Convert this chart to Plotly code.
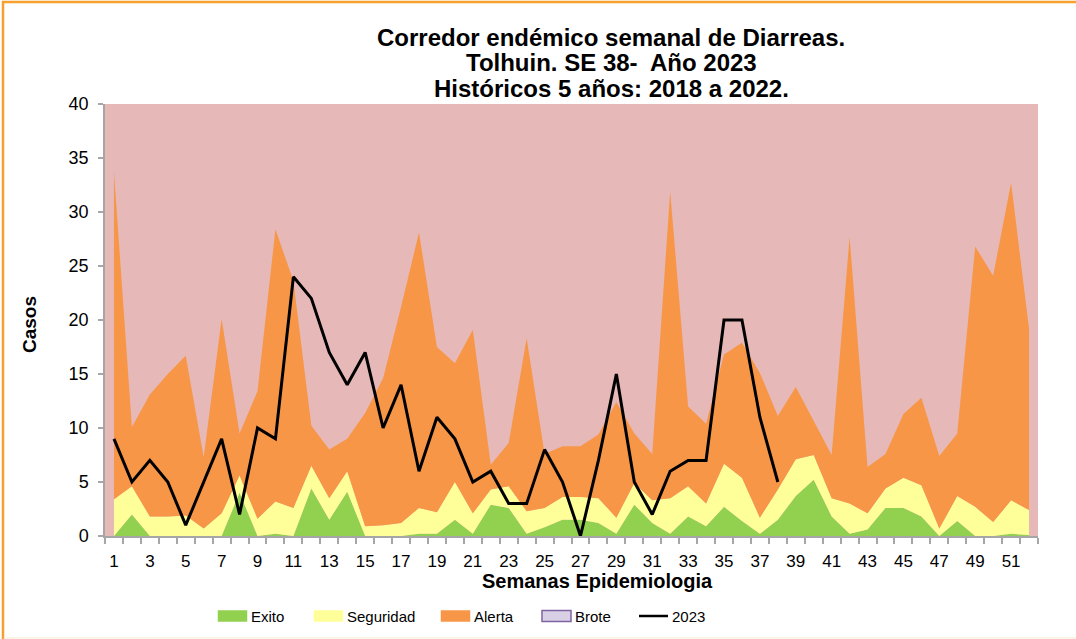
import plotly.graph_objects as go

weeks = list(range(1, 53))

exito = [0, 2.0, 0, 0, 0, 0, 0, 4.0, 0, 0.2, 0, 4.4, 1.5, 4.1, 0, 0, 0, 0.2, 0.2, 1.5,
         0.2, 2.9, 2.6, 0.2, 0.8, 1.5, 1.5, 1.2, 0.2, 2.9, 1.2, 0.2, 1.8, 0.9, 2.7, 1.4,
         0.2, 1.5, 3.7, 5.2, 1.8, 0.2, 0.6, 2.6, 2.6, 1.8, 0, 1.4, 0, 0, 0.2, 0.1]

seguridad = [3.4, 4.6, 1.8, 1.8, 1.9, 0.7, 2.1, 5.6, 1.6, 3.2, 2.6, 6.5, 3.5, 6.0, 0.9, 1.0,
             1.2, 2.6, 2.2, 5.0, 2.1, 4.3, 4.6, 2.3, 2.6, 3.6, 3.6, 3.5, 1.7, 4.9, 3.3, 3.5,
             4.6, 3.0, 6.7, 5.4, 1.7, 4.3, 7.1, 7.5, 3.5, 3.0, 2.1, 4.4, 5.4, 4.7, 0.7, 3.7,
             2.7, 1.3, 3.3, 2.4]

alerta = [33.7, 10.1, 13.1, 15.0, 16.7, 7.3, 20.1, 9.5, 13.4, 28.4, 23.6, 10.2, 8.0, 9.0,
          11.4, 14.6, 21.2, 28.1, 17.5, 16.0, 19.1, 6.6, 8.6, 18.3, 7.6, 8.3, 8.3, 9.4, 12.4,
          9.5, 7.6, 31.9, 12.0, 10.4, 16.8, 17.9, 15.1, 11.1, 13.8, 10.7, 7.5, 27.7, 6.4, 7.6,
          11.3, 12.8, 7.4, 9.5, 26.8, 24.1, 32.7, 19.2]

casos_2023 = [9, 5, 7, 5, 1, 5, 9, 2, 10, 9, 24, 22, 17, 14, 17, 10, 14, 6, 11, 9, 5, 6, 3,
              3, 8, 5, 0, 7, 15, 5, 2, 6, 7, 7, 20, 20, 11, 5]

x_tick_labels = [str(w) for w in range(1, 53, 2)]

title_lines = ["Corredor endémico semanal de Diarreas.",
               "Tolhuin. SE 38-  Año 2023",
               "Históricos 5 años: 2018 a 2022."]

C_EXITO = "#92D050"
C_SEG = "#FFFF99"
C_ALERTA = "#F79646"
C_BROTE_BG = "#E6B8B7"
C_BROTE_LEG = "#D9D0E6"
C_BROTE_EDGE = "#8064A2"
FONT = "Liberation Sans, Arial, sans-serif"

fig = go.Figure()
fig.add_trace(go.Scatter(x=weeks, y=exito, mode="lines", line=dict(width=0, color=C_EXITO),
                         fill="tozeroy", fillcolor=C_EXITO, name="Exito", showlegend=False))
fig.add_trace(go.Scatter(x=weeks, y=seguridad, mode="lines", line=dict(width=0, color=C_SEG),
                         fill="tonexty", fillcolor=C_SEG, name="Seguridad", showlegend=False))
fig.add_trace(go.Scatter(x=weeks, y=alerta, mode="lines", line=dict(width=0, color=C_ALERTA),
                         fill="tonexty", fillcolor=C_ALERTA, name="Alerta", showlegend=False))
fig.add_trace(go.Scatter(x=weeks[:len(casos_2023)], y=casos_2023, mode="lines",
                         line=dict(width=3, color="black"), name="2023", showlegend=False))

W, H = 1076, 639
L, R, T, B = 105, 1038, 104, 536
pw, ph = R - L, B - T


def px(x):
    return (x - L) / pw


def py(y):
    return (B - y) / ph


shapes = []
annotations = []

# outer orange frame (top and left visible, right/bottom cut off as in the reference)
shapes.append(dict(type="rect", xref="paper", yref="paper", x0=px(3), x1=px(1110), y0=py(660), y1=py(2),
                   line=dict(color="#F7A030", width=2.5), fillcolor="rgba(0,0,0,0)", layer="below"))
shapes.append(dict(type="line", xref="paper", yref="paper", x0=px(4), x1=px(1110), y0=py(638), y1=py(638),
                   line=dict(color="#FDF1E0", width=1.5), layer="below"))

# title
for i, t in enumerate(title_lines):
    annotations.append(dict(text="<b>" + t + "</b>", xref="paper", yref="paper", x=px(611), y=py(37 + i * 26),
                            xanchor="center", yanchor="middle", showarrow=False,
                            font=dict(family=FONT, size=24, color="black")))

annotations.append(dict(text="<b>Semanas Epidemiologia</b>", xref="paper", yref="paper", x=px(597), y=py(581),
                        xanchor="center", yanchor="middle", showarrow=False,
                        font=dict(family=FONT, size=20, color="black")))
annotations.append(dict(text="<b>Casos</b>", xref="paper", yref="paper", x=px(29), y=py(325),
                        xanchor="center", yanchor="middle", showarrow=False, textangle=-90,
                        font=dict(family=FONT, size=19, color="black")))

# manual legend
leg_y = 616
legend_items = [("Exito", 218, C_EXITO, C_EXITO), ("Seguridad", 314, C_SEG, C_SEG),
                ("Alerta", 441, C_ALERTA, C_ALERTA), ("Brote", 542, C_BROTE_LEG, C_BROTE_EDGE)]
for name, x0, fc, lc in legend_items:
    shapes.append(dict(type="rect", xref="paper", yref="paper", x0=px(x0), x1=px(x0 + 29),
                       y0=py(leg_y + 5.5), y1=py(leg_y - 5.5), fillcolor=fc,
                       line=dict(color=lc, width=1.5 if name == "Brote" else 0.5)))
    annotations.append(dict(text=name, xref="paper", yref="paper", x=px(x0 + 31), y=py(leg_y),
                            xanchor="left", yanchor="middle", showarrow=False,
                            font=dict(family=FONT, size=15, color="black")))
shapes.append(dict(type="line", xref="paper", yref="paper", x0=px(639), x1=px(668), y0=py(leg_y), y1=py(leg_y),
                   line=dict(color="black", width=2.5)))
annotations.append(dict(text="2023", xref="paper", yref="paper", x=px(670), y=py(leg_y),
                        xanchor="left", yanchor="middle", showarrow=False,
                        font=dict(family=FONT, size=15, color="black")))

fig.update_layout(
    width=W, height=H,
    margin=dict(l=L, r=W - R, t=T, b=H - B),
    paper_bgcolor="white",
    plot_bgcolor=C_BROTE_BG,
    showlegend=False,
    shapes=shapes,
    annotations=annotations,
    font=dict(family=FONT, color="black"),
)
fig.update_xaxes(range=[0.5, 52.5], tickmode="array", tickvals=list(range(1, 53, 2)), ticktext=x_tick_labels,
                 ticks="", showgrid=False, zeroline=False, showline=True, linecolor="#A6A6A6", linewidth=1.5,
                 tickfont=dict(family=FONT, size=17, color="black"), ticklabelstandoff=9,
                 minor=dict(tickmode="linear", tick0=0.5, dtick=1, ticks="outside", ticklen=6,
                            tickcolor="#A6A6A6", tickwidth=1.5, showgrid=False))
fig.update_yaxes(range=[0, 40], dtick=5, tick0=0, ticks="outside", ticklen=5, tickcolor="#A6A6A6", tickwidth=1.5,
                 showgrid=False, zeroline=False, showline=True, linecolor="#A6A6A6", linewidth=1.5,
                 tickfont=dict(family=FONT, size=18, color="black"), ticklabelstandoff=6)

fig.write_html("out.html", config={"displayModeBar": False},
               post_script="document.body.style.margin='0';document.body.style.overflow='hidden';")
